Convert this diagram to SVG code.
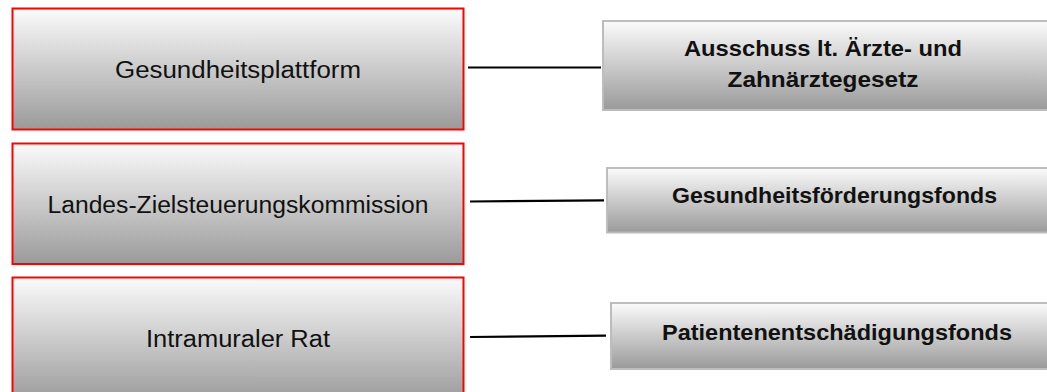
<svg xmlns="http://www.w3.org/2000/svg" width="1047" height="392" viewBox="0 0 1047 392">
<defs>
<linearGradient id="g" x1="0" y1="0" x2="0" y2="1">
<stop offset="0" stop-color="#fbfbfb"/>
<stop offset="1" stop-color="#9a9a9a"/>
</linearGradient>
</defs>
<style>
.l{fill:url(#g);stroke:#ff0000;stroke-width:2}
.r{fill:url(#g);stroke:#bdbdbd;stroke-width:2}
.t{font-family:"Liberation Sans",Arial,sans-serif;font-size:23px;fill:#111;text-anchor:middle}
.b{font-family:"Liberation Sans",Arial,sans-serif;font-size:22.5px;font-weight:bold;fill:#111;text-anchor:middle}
.c{stroke:#000;stroke-width:2.2;fill:none}
</style>
<rect width="1047" height="392" fill="#fff"/>
<g id="connectors">
<line class="c" x1="468" y1="67.5" x2="601" y2="67.5"/>
<line class="c" x1="470" y1="201.5" x2="604" y2="200.3"/>
<line class="c" x1="470" y1="337" x2="606" y2="335.7"/>
</g>
<g id="n1">
<rect class="l" x="12.5" y="8.5" width="451" height="121"/>
<text class="t" x="238" y="78.3" textLength="246" lengthAdjust="spacingAndGlyphs">Gesundheitsplattform</text>
</g>
<g id="n2">
<rect class="l" x="12.5" y="143.5" width="451" height="120.5"/>
<text class="t" x="238" y="213" textLength="381" lengthAdjust="spacingAndGlyphs">Landes-Zielsteuerungskommission</text>
</g>
<g id="n3">
<rect class="l" x="12.5" y="277.5" width="451" height="125"/>
<text class="t" x="238" y="347" textLength="184" lengthAdjust="spacingAndGlyphs">Intramuraler Rat</text>
</g>
<g id="n4">
<rect class="r" x="603" y="21" width="460" height="89"/>
<text class="b" x="823" y="56" textLength="278" lengthAdjust="spacingAndGlyphs">Ausschuss lt. Ärzte- und</text>
<text class="b" x="823" y="87" textLength="191" lengthAdjust="spacingAndGlyphs">Zahnärztegesetz</text>
</g>
<g id="n5">
<rect class="r" x="607" y="168" width="460" height="64.5"/>
<text class="b" x="834.5" y="203" textLength="325" lengthAdjust="spacingAndGlyphs">Gesundheitsförderungsfonds</text>
</g>
<g id="n6">
<rect class="r" x="611" y="303" width="460" height="66"/>
<text class="b" x="837" y="340" textLength="350" lengthAdjust="spacingAndGlyphs">Patientenentschädigungsfonds</text>
</g>
</svg>
